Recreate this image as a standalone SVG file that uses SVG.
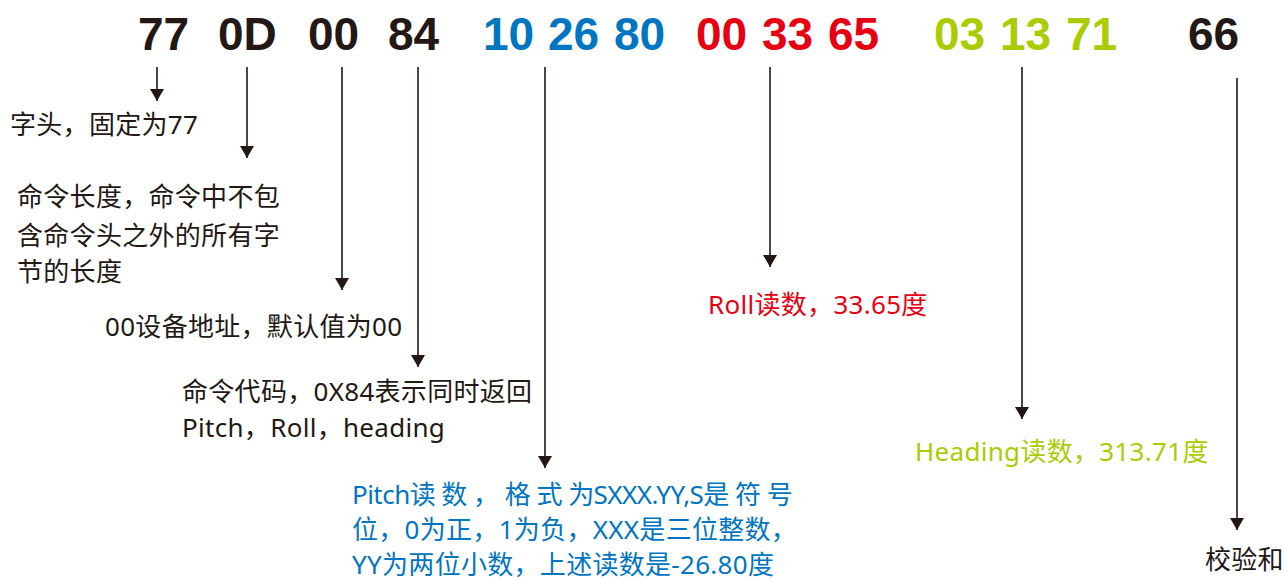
<svg xmlns="http://www.w3.org/2000/svg" width="1284" height="580" viewBox="0 0 1284 580">
<defs>
<style>
.hex{font-family:"Liberation Sans",Arial,sans-serif;font-weight:bold;font-size:46px}
.k{fill:#231815}
.b{fill:#0075c2}
.r{fill:#e60012}
.g{fill:#aacc03}
.t{font-family:"Noto Sans","Noto Sans CJK SC",sans-serif;font-size:26px;letter-spacing:0.3px}
.ln{stroke:#231815;stroke-width:1.6;fill:none}
</style>
<marker id="ah" markerUnits="userSpaceOnUse" markerWidth="12" markerHeight="14" viewBox="0 -7 12 14" refX="12" refY="0" orient="auto">
<path d="M0,-7 L12,0 L0,7 z" fill="#231815"/>
</marker>
</defs>
<rect width="1284" height="580" fill="#ffffff"/>
<g id="hex-row" class="hex">
<text class="k" x="138" y="50">77</text>
<text class="k" x="218" y="50">0D</text>
<text class="k" x="308" y="50">00</text>
<text class="k" x="388" y="50">84</text>
<text class="b" x="483" y="50">10</text>
<text class="b" x="548" y="50">26</text>
<text class="b" x="614" y="50">80</text>
<text class="r" x="696" y="50">00</text>
<text class="r" x="762" y="50">33</text>
<text class="r" x="828" y="50">65</text>
<text class="g" x="934" y="50">03</text>
<text class="g" x="1000" y="50">13</text>
<text class="g" x="1066" y="50">71</text>
<text class="k" x="1188" y="50">66</text>
</g>
<g id="connectors" class="ln" marker-end="url(#ah)">
<line x1="157" y1="67" x2="157" y2="101"/>
<line x1="247" y1="67" x2="247" y2="158"/>
<line x1="342" y1="67" x2="342" y2="290"/>
<line x1="418" y1="67" x2="418" y2="367"/>
<line x1="545" y1="67" x2="545" y2="468"/>
<line x1="770" y1="67" x2="770" y2="267"/>
<line x1="1022" y1="67" x2="1022" y2="419"/>
<line x1="1237" y1="78" x2="1237" y2="530"/>
</g>
<g id="node-header" class="t k"><text x="10" y="134">字头，固定为77</text></g>
<g id="node-length" class="t k">
<text x="17" y="206">命令长度，命令中不包</text>
<text x="17" y="245">含命令头之外的所有字</text>
<text x="17" y="281">节的长度</text>
</g>
<g id="node-address" class="t k"><text x="105" y="336">00设备地址，默认值为00</text></g>
<g id="node-command" class="t k">
<text x="182" y="401">命令代码，0X84表示同时返回</text>
<text x="182" y="437">Pitch，Roll，heading</text>
</g>
<g id="node-pitch" class="t b">
<text x="352" y="504" textLength="441" lengthAdjust="spacing">Pitch读 数 ， 格 式 为SXXX.YY,S是 符 号</text>
<text x="352" y="539">位，0为正，1为负，XXX是三位整数，</text>
<text x="352" y="574">YY为两位小数，上述读数是-26.80度</text>
</g>
<g id="node-roll" class="t r"><text x="708" y="314">Roll读数，33.65度</text></g>
<g id="node-heading" class="t g"><text x="915" y="461">Heading读数，313.71度</text></g>
<g id="node-checksum" class="t k"><text x="1205" y="569">校验和</text></g>
</svg>
